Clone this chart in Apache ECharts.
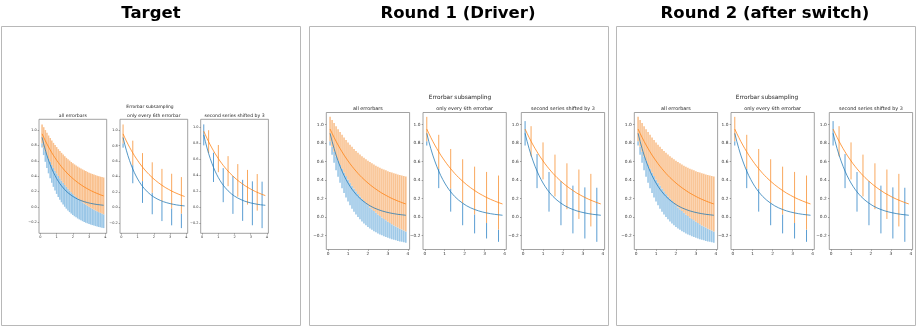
<!DOCTYPE html>
<html>
<head>
<meta charset="utf-8">
<script src="https://cdn.jsdelivr.net/npm/echarts@6/dist/echarts.min.js"></script>
<style>
html, body { margin: 0; padding: 0; background: #fff; }
#chart { width: 921px; height: 328px; }
</style>
</head>
<body>
<div id="chart"></div>
<script>
// data
var xs = [0.1, 0.2, 0.3, 0.4, 0.5, 0.6, 0.7, 0.8, 0.9, 1.0, 1.1, 1.2, 1.3, 1.4, 1.5, 1.6, 1.7, 1.8, 1.9, 2.0,
          2.1, 2.2, 2.3, 2.4, 2.5, 2.6, 2.7, 2.8, 2.9, 3.0, 3.1, 3.2, 3.3, 3.4, 3.5, 3.6, 3.7, 3.8, 3.9];
var y1 = [0.905, 0.819, 0.741, 0.670, 0.607, 0.549, 0.497, 0.449, 0.407, 0.368, 0.333, 0.301, 0.273, 0.247, 0.223,
          0.202, 0.183, 0.165, 0.150, 0.135, 0.122, 0.111, 0.100, 0.091, 0.082, 0.074, 0.067, 0.061, 0.055, 0.050,
          0.045, 0.041, 0.037, 0.033, 0.030, 0.027, 0.025, 0.022, 0.020];
var y2 = [0.951, 0.905, 0.861, 0.819, 0.779, 0.741, 0.705, 0.670, 0.638, 0.607, 0.577, 0.549, 0.522, 0.497, 0.472,
          0.449, 0.427, 0.407, 0.387, 0.368, 0.350, 0.333, 0.317, 0.301, 0.287, 0.273, 0.259, 0.247, 0.235, 0.223,
          0.212, 0.202, 0.192, 0.183, 0.174, 0.165, 0.157, 0.150, 0.142];
var err1 = [0.132, 0.145, 0.155, 0.163, 0.171, 0.177, 0.184, 0.189, 0.195, 0.200, 0.205, 0.210, 0.214, 0.218, 0.222,
            0.226, 0.230, 0.234, 0.238, 0.241, 0.245, 0.248, 0.252, 0.255, 0.258, 0.261, 0.264, 0.267, 0.270, 0.273,
            0.276, 0.279, 0.282, 0.284, 0.287, 0.290, 0.292, 0.295, 0.297];
// orange errors are smaller in the target panel
var err2Target = [0.122, 0.132, 0.139, 0.145, 0.150, 0.155, 0.159, 0.163, 0.167, 0.171, 0.174, 0.177, 0.181, 0.184, 0.187,
                  0.189, 0.192, 0.195, 0.197, 0.200, 0.202, 0.205, 0.207, 0.210, 0.212, 0.214, 0.216, 0.218, 0.220, 0.222,
                  0.224, 0.226, 0.228, 0.230, 0.232, 0.234, 0.236, 0.238, 0.240];
// the two round panels use the same errors for both series
var err2Round = err1;

var xTicks = [0, 1, 2, 3, 4];
var yTicks = [-0.2, 0, 0.2, 0.4, 0.6, 0.8, 1.0];
var panelTitles = ['Target', 'Round 1 (Driver)', 'Round 2 (after switch)'];
var subTitles = ['all errorbars', 'only every 6th errorbar', 'second series shifted by 3'];
var supTitle = 'Errorbar subsampling';
var blueEvery = [[1, 0], [6, 0], [6, 0]];
var orangeEvery = [[1, 0], [6, 0], [6, 3]];

var BLUE = '#1f77b4', ORANGE = '#ff7f0e';
// bar look per subplot: the dense one reads as pale bands
var barStyles = [
    {blue: '#9bc7e7', orange: '#f9c18f', width: 1.6},
    {blue: '#5a9dd2', orange: '#f9a85e', width: 1},
    {blue: '#5a9dd2', orange: '#f9a85e', width: 1}
];
var FONT = 'DejaVu Sans';

var roundLims = [[-0.35, 1.13], [-0.35, 1.13], [-0.35, 1.13]];
var panels = [
    {titleX: 151, frame: [1.5, 26.5, 299, 299], lefts: [39, 120, 200.7], w: 67.7, top: 119.3, h: 114,
     supX: 150, supY: 107, subY: 116, tick: 3.5, sub: 4.6, sup: 4.4, margin: 2.2,
     ylims: [[-0.345, 1.14], [-0.334, 1.14], [-0.332, 1.101]], err2: err2Target},
    {titleX: 458, frame: [309.5, 26.5, 299, 299], lefts: [326.3, 423, 521.3], w: 83.3, top: 112.5, h: 137,
     supX: 460, supY: 97.5, subY: 109, tick: 4.3, sub: 4.9, sup: 5.8, margin: 2.6,
     ylims: roundLims, err2: err2Round},
    {titleX: 765, frame: [616.5, 26.5, 299, 299], lefts: [634.3, 731, 829.3], w: 83.3, top: 112.5, h: 137,
     supX: 767, supY: 97.5, subY: 109, tick: 4.3, sub: 4.9, sup: 5.8, margin: 2.6,
     ylims: roundLims, err2: err2Round}
];

function textEl(str, x, y, size, weight, color) {
    return {
        type: 'text', x: x, y: y, silent: true, z: 10,
        style: {text: str, fill: color, fontFamily: FONT, fontSize: size, fontWeight: weight,
                align: 'center', verticalAlign: 'middle'}
    };
}

function barEl(api, x, lo, hi, color, width) {
    var top = api.coord([x, hi]);
    var bot = api.coord([x, lo]);
    return {
        type: 'line',
        shape: {x1: top[0], y1: top[1], x2: bot[0], y2: bot[1]},
        style: {stroke: color, lineWidth: width}
    };
}

// the orange bar hides the blue one where they overlap, so only draw the blue parts left uncovered
function visibleBlue(lo1, hi1, lo2, hi2) {
    if (hi1 <= lo2 || lo1 >= hi2) return [[lo1, hi1]];
    var parts = [];
    if (lo1 < lo2) parts.push([lo1, lo2]);
    if (hi1 > hi2) parts.push([hi2, hi1]);
    return parts;
}

function makeRenderBars(st) {
    return function (params, api) {
        var x = api.value(0);
        var lo1 = api.value(1), hi1 = api.value(2), lo2 = api.value(3), hi2 = api.value(4);
        var hasBlue = api.value(5), hasOrange = api.value(6);
        var children = [];
        if (hasBlue) {
            var parts = hasOrange ? visibleBlue(lo1, hi1, lo2, hi2) : [[lo1, hi1]];
            parts.forEach(function (s) { children.push(barEl(api, x, s[0], s[1], st.blue, st.width)); });
        }
        if (hasOrange) children.push(barEl(api, x, lo2, hi2, st.orange, st.width));
        return {type: 'group', children: children};
    };
}

function onEvery(i, every) {
    return i >= every[1] && (i - every[1]) % every[0] == 0 ? 1 : 0;
}

function barData(err2, k) {
    var out = [];
    for (var i = 0; i < xs.length; i++) {
        var b = onEvery(i, blueEvery[k]), o = onEvery(i, orangeEvery[k]);
        if (b || o) {
            out.push([xs[i], y1[i] - err1[i], y1[i] + err1[i], y2[i] - err2[i], y2[i] + err2[i], b, o]);
        }
    }
    return out;
}

function lineData(ys) {
    return xs.map(function (x, i) { return [x, ys[i]]; });
}

var grids = [], xAxes = [], yAxes = [], series = [], graphics = [];

panels.forEach(function (p, pi) {
    graphics.push({
        type: 'rect', silent: true,
        shape: {x: p.frame[0], y: p.frame[1], width: p.frame[2], height: p.frame[3]},
        style: {fill: 'none', stroke: '#b8b8b8', lineWidth: 1}
    });
    graphics.push(textEl(panelTitles[pi], p.titleX, 14, 16.5, 'bold', '#000'));
    graphics.push(textEl(supTitle, p.supX, p.supY, p.sup, 'normal', '#222'));

    for (var k = 0; k < 3; k++) {
        var gi = grids.length;
        grids.push({
            left: p.lefts[k], top: p.top, width: p.w, height: p.h,
            show: true, borderColor: '#8a8a8a', borderWidth: 0.8, backgroundColor: 'transparent'
        });
        graphics.push(textEl(subTitles[k], p.lefts[k] + p.w / 2, p.subY, p.sub, 'normal', '#222'));

        xAxes.push({
            type: 'value', gridIndex: gi, min: -0.09, max: 4.09,
            axisLine: {show: false, onZero: false},
            splitLine: {show: false},
            axisTick: {show: true, customValues: xTicks, length: 1.3, lineStyle: {color: '#777', width: 0.7}},
            axisLabel: {customValues: xTicks, fontSize: p.tick, fontFamily: FONT, color: '#333', margin: p.margin}
        });
        yAxes.push({
            type: 'value', gridIndex: gi, min: p.ylims[k][0], max: p.ylims[k][1],
            axisLine: {show: false, onZero: false},
            splitLine: {show: false},
            axisTick: {show: true, customValues: yTicks, length: 1.3, lineStyle: {color: '#777', width: 0.7}},
            axisLabel: {
                customValues: yTicks, fontSize: p.tick, fontFamily: FONT, color: '#333', margin: p.margin,
                formatter: function (v) { return v.toFixed(1).replace('-', '\u2212'); }
            }
        });

        series.push({
            type: 'custom', xAxisIndex: gi, yAxisIndex: gi, z: 2, silent: true,
            renderItem: makeRenderBars(barStyles[k]),
            encode: {x: 0, y: [1, 2, 3, 4]}, data: barData(p.err2, k)
        });
        series.push({
            type: 'line', xAxisIndex: gi, yAxisIndex: gi, z: 4, silent: true,
            symbol: 'none', lineStyle: {color: BLUE, width: 0.9, opacity: 0.85}, itemStyle: {color: BLUE},
            data: lineData(y1)
        });
        series.push({
            type: 'line', xAxisIndex: gi, yAxisIndex: gi, z: 4, silent: true,
            symbol: 'none', lineStyle: {color: ORANGE, width: 0.9, opacity: 0.85}, itemStyle: {color: ORANGE},
            data: lineData(y2)
        });
    }
});

var myChart = echarts.init(document.getElementById('chart'));
myChart.setOption({
    animation: false,
    backgroundColor: '#fff',
    grid: grids,
    xAxis: xAxes,
    yAxis: yAxes,
    series: series,
    graphic: {elements: graphics}
});
</script>
</body>
</html>
